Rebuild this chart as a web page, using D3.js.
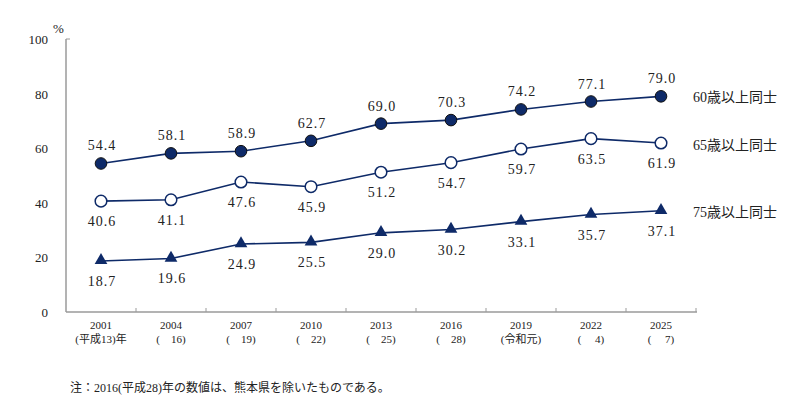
<!DOCTYPE html>
<html>
<head>
<meta charset="utf-8">
<script src="https://cdn.jsdelivr.net/npm/d3@7"></script>
<style>
  body { margin: 0; background: #fff; }
  svg text { font-family: "Liberation Serif", "DejaVu Serif", "Noto Sans CJK JP", serif; fill: #222; }
</style>
</head>
<body>
<div id="chart"></div>
<script>
// data
const years = ['2001', '2004', '2007', '2010', '2013', '2016', '2019', '2022', '2025'];
const eras = ['(平成13)年', '(　16)', '(　19)', '(　22)', '(　25)', '(　28)', '(令和元)', '(　 4)', '(　 7)'];
const over60 = [54.4, 58.1, 58.9, 62.7, 69.0, 70.3, 74.2, 77.1, 79.0];
const over65 = [40.6, 41.1, 47.6, 45.9, 51.2, 54.7, 59.7, 63.5, 61.9];
const over75 = [18.7, 19.6, 24.9, 25.5, 29.0, 30.2, 33.1, 35.7, 37.1];
const seriesNames = ['60歳以上同士', '65歳以上同士', '75歳以上同士'];
const yTicks = [0, 20, 40, 60, 80, 100];

const width = 800;
const height = 401;
const navy = '#0e2a68';

const svg = d3.select('#chart').append('svg')
  .attr('width', width)
  .attr('height', height);

const xScale = d3.scaleBand()
  .domain(years)
  .range([66, 696]);

const yScale = d3.scaleLinear()
  .domain([0, 100])
  .range([312, 39]);

const cx = d => xScale(d) + xScale.bandwidth() / 2;

// y axis
svg.append('line')
  .attr('x1', 66).attr('x2', 66)
  .attr('y1', yScale(0)).attr('y2', yScale(100))
  .attr('stroke', '#9a9a9a').attr('stroke-width', 1.5);
svg.append('line')
  .attr('x1', 66).attr('x2', 70)
  .attr('y1', yScale(100)).attr('y2', yScale(100))
  .attr('stroke', '#9a9a9a').attr('stroke-width', 1);

svg.selectAll('.ylab')
  .data(yTicks)
  .enter()
    .append('text')
      .attr('class', 'ylab')
      .attr('x', 48)
      .attr('y', d => yScale(d) + 5)
      .attr('text-anchor', 'end')
      .attr('font-size', 13)
      .text(d => d);

svg.append('text')
  .attr('x', 53).attr('y', 33)
  .attr('font-size', 13)
  .text('%');

// x axis
svg.append('line')
  .attr('x1', 66).attr('x2', 697)
  .attr('y1', yScale(0)).attr('y2', yScale(0))
  .attr('stroke', '#9a9a9a').attr('stroke-width', 1.5);

svg.selectAll('.xtick')
  .data(years.slice(1).concat(['end']))
  .enter()
    .append('line')
      .attr('class', 'xtick')
      .attr('x1', (d, i) => xScale(years[i]) + xScale.bandwidth())
      .attr('x2', (d, i) => xScale(years[i]) + xScale.bandwidth())
      .attr('y1', yScale(0) - 4)
      .attr('y2', yScale(0))
      .attr('stroke', '#9a9a9a');

svg.selectAll('.xyear')
  .data(years)
  .enter()
    .append('text')
      .attr('class', 'xyear')
      .attr('x', d => cx(d))
      .attr('y', 329)
      .attr('text-anchor', 'middle')
      .attr('font-size', 11)
      .text(d => d);

svg.selectAll('.xera')
  .data(eras)
  .enter()
    .append('text')
      .attr('class', 'xera')
      .attr('x', (d, i) => cx(years[i]))
      .attr('y', 343)
      .attr('text-anchor', 'middle')
      .attr('font-size', 11)
      .text(d => d);

// lines
const line = d3.line()
  .x((d, i) => cx(years[i]))
  .y(d => yScale(d));

[over60, over65, over75].forEach(s => {
  svg.append('path')
    .datum(s)
    .attr('d', line)
    .attr('fill', 'none')
    .attr('stroke', navy)
    .attr('stroke-width', 1.6);
});

// markers
svg.selectAll('.m60')
  .data(over60)
  .enter()
    .append('circle')
      .attr('cx', (d, i) => cx(years[i]))
      .attr('cy', d => yScale(d))
      .attr('r', 5.8)
      .attr('fill', navy)
      .attr('stroke', '#111')
      .attr('stroke-width', 1);

svg.selectAll('.m65')
  .data(over65)
  .enter()
    .append('circle')
      .attr('cx', (d, i) => cx(years[i]))
      .attr('cy', d => yScale(d))
      .attr('r', 5.8)
      .attr('fill', '#fff')
      .attr('stroke', navy)
      .attr('stroke-width', 1.5);

const tri = d3.symbol().type(d3.symbolTriangle).size(70);
svg.selectAll('.m75')
  .data(over75)
  .enter()
    .append('path')
      .attr('d', tri)
      .attr('transform', (d, i) => `translate(${cx(years[i])}, ${yScale(d) - 0.5})`)
      .attr('fill', navy);

// value labels
const addLabels = (s, dy) => {
  svg.append('g').selectAll('text')
    .data(s)
    .enter()
      .append('text')
        .attr('x', (d, i) => cx(years[i]) + 1)
        .attr('y', d => yScale(d) + dy)
        .attr('text-anchor', 'middle')
        .attr('font-size', 14)
        .attr('letter-spacing', 1)
        .text(d => d.toFixed(1));
};
addLabels(over60, -13);
addLabels(over65, 25);
addLabels(over75, 25);

// series names
svg.selectAll('.sname')
  .data([over60, over65, over75])
  .enter()
    .append('text')
      .attr('class', 'sname')
      .attr('x', 693)
      .attr('y', (d, i) => [102, 150, 217][i])
      .attr('font-size', 14)
      .text((d, i) => seriesNames[i]);

svg.append('text')
  .attr('x', 70).attr('y', 392)
  .attr('font-size', 12)
  .text('注：2016(平成28)年の数値は、熊本県を除いたものである。');
</script>
</body>
</html>
